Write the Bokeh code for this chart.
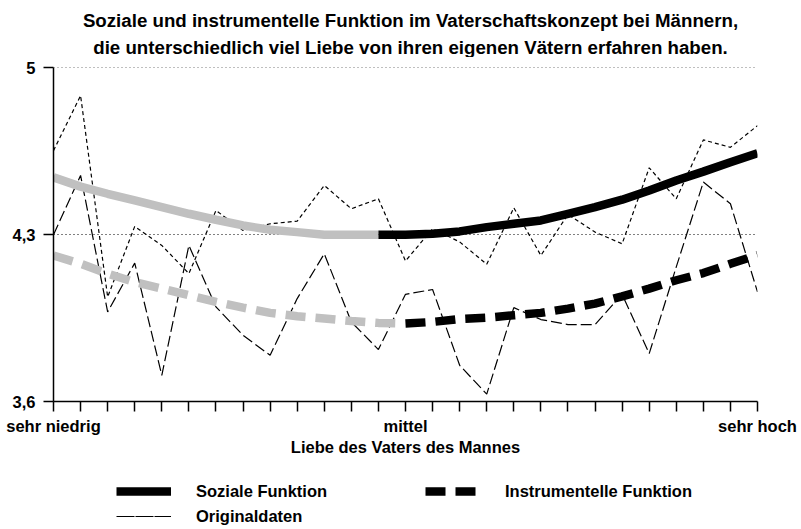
from bokeh.plotting import figure
from bokeh.models import Range1d, FixedTicker, Label, Legend, LegendItem
from bokeh.layouts import column
from bokeh.embed import file_html
from bokeh.resources import INLINE

# ---- data ----
positions = list(range(27))
tick_labels = ["sehr niedrig", "", "", "", "", "", "", "", "", "", "", "", "",
               "mittel", "", "", "", "", "", "", "", "", "", "", "", "", "sehr hoch"]
y_ticks = [3.6, 4.3, 5.0]
y_tick_labels = ["3,6", "4,3", "5"]

soz_orig = [4.653, 4.884, 4.039, 4.335, 4.255, 4.137, 4.402, 4.318, 4.346,
            4.357, 4.507, 4.409, 4.451, 4.190, 4.325, 4.270, 4.176, 4.413,
            4.213, 4.385, 4.311, 4.262, 4.581, 4.451, 4.698, 4.667, 4.758]
inst_orig = [4.300, 4.549, 3.976, 4.181, 3.710, 4.255, 3.997, 3.878, 3.794,
             4.032, 4.220, 3.934, 3.818, 4.050, 4.070, 3.752, 3.631, 3.994,
             3.944, 3.923, 3.923, 4.050, 3.801, 4.165, 4.521, 4.430, 4.060]
soz_trend = [4.541, 4.502, 4.472, 4.444, 4.416, 4.388, 4.363, 4.339, 4.321,
             4.311, 4.300, 4.300, 4.300, 4.300, 4.304, 4.314, 4.332, 4.346,
             4.360, 4.388, 4.416, 4.447, 4.486, 4.528, 4.565, 4.604, 4.642]
inst_trend = [4.213, 4.178, 4.137, 4.101, 4.074, 4.046, 4.018, 3.994, 3.972,
              3.958, 3.948, 3.938, 3.930, 3.927, 3.934, 3.946, 3.952, 3.962,
              3.972, 3.990, 4.011, 4.041, 4.074, 4.109, 4.139, 4.178, 4.215]
soz_split = 12
inst_split = 13

title_lines = ["Soziale und instrumentelle Funktion im Vaterschaftskonzept bei Männern,",
               "die unterschiedlich viel Liebe von ihren eigenen Vätern erfahren haben."]
x_title = "Liebe des Vaters des Mannes"
legend_labels = ["Soziale Funktion", "Instrumentelle Funktion", "Originaldaten"]

FONT = "Liberation Sans"
GRAY = "#c0c0c0"
W = 801
H_TITLE, H_MAIN, H_LEG = 57, 409, 63
BL, BR = 53, 44          # left / right border, same for all three panels
THICK = 8.5
NAN = float("nan")


def blank_fig(h):
    f = figure(width=W, height=h, x_range=Range1d(BL, W - BR), y_range=Range1d(0, h),
               x_axis_location=None, y_axis_location=None,
               min_border_left=BL, min_border_right=BR, min_border_top=0, min_border_bottom=0,
               output_backend="svg", toolbar_location=None)
    f.outline_line_color = None
    f.grid.visible = False
    return f


# ---- title ----
pt = blank_fig(H_TITLE)
for txt, yy in zip(title_lines, [H_TITLE - 20, H_TITLE - 47]):
    pt.add_layout(Label(x=410, y=yy, text=txt, text_font=FONT, text_font_size="18.7px",
                        text_font_style="bold", text_align="center",
                        text_baseline="middle", text_color="black"))

# ---- main plot ----
p = figure(width=W, height=H_MAIN, x_range=Range1d(0, 26), y_range=Range1d(3.6, 5.002),
           output_backend="svg", toolbar_location=None,
           min_border_left=BL, min_border_right=BR, min_border_top=10, min_border_bottom=65)
p.outline_line_color = None

p.xgrid.visible = False
p.ygrid.ticker = FixedTicker(ticks=[4.3, 5.0])
p.ygrid.grid_line_color = "black"
p.ygrid.grid_line_dash = "1 3"
p.ygrid.grid_line_width = 1

for ax in (p.xaxis[0], p.yaxis[0]):
    ax.axis_line_color = "black"
    ax.axis_line_width = 1.5
    ax.major_tick_line_color = "black"
    ax.major_tick_line_width = 1.5
    ax.major_tick_out = 10
    ax.major_tick_in = 0
    ax.minor_tick_line_color = None
    ax.major_label_text_font = FONT
    ax.major_label_text_font_size = "16.5px"
    ax.major_label_text_font_style = "bold"
    ax.major_label_text_color = "black"

p.xaxis.ticker = FixedTicker(ticks=positions)
p.xaxis.major_label_overrides = {k: v for k, v in zip(positions, tick_labels)}
p.xaxis.major_label_standoff = 5
p.xaxis.axis_label = x_title
p.xaxis.axis_label_text_font = FONT
p.xaxis.axis_label_text_font_size = "16.5px"
p.xaxis.axis_label_text_font_style = "bold"
p.xaxis.axis_label_text_color = "black"
p.xaxis.axis_label_standoff = 0

p.yaxis.ticker = FixedTicker(ticks=y_ticks)
p.yaxis.major_label_overrides = {k: v for k, v in zip(y_ticks, y_tick_labels)}
p.yaxis.major_label_standoff = 8

# original data (thin)
p.line(positions, soz_orig, line_color="black", line_width=1.2, line_dash="4 3")
p.line(positions, inst_orig, line_color="black", line_width=1.2, line_dash="11 4")

# trend lines (thick)
p.line(positions[:soz_split + 1], soz_trend[:soz_split + 1], line_color=GRAY, line_width=THICK)
p.line(positions[soz_split:], soz_trend[soz_split:], line_color="black", line_width=THICK)
p.line(positions[:inst_split + 1], inst_trend[:inst_split + 1], line_color=GRAY,
       line_width=THICK, line_dash="20 10")
p.line(positions[inst_split:], inst_trend[inst_split:], line_color="black",
       line_width=THICK, line_dash="20 10")

# ---- legend (renderers hold no visible data; they only supply legend glyphs) ----
pl = blank_fig(H_LEG)
l_soz = pl.line([NAN], [NAN], line_color="black", line_width=THICK)
l_inst = pl.line([NAN], [NAN], line_color="black", line_width=THICK, line_dash="20 10")
l_orig = pl.line([NAN], [NAN], line_color="black", line_width=1, line_dash="18 1")


def make_legend(items, loc):
    lg = Legend(items=items, location=loc, orientation="horizontal",
                glyph_width=55, glyph_height=20, label_standoff=25, label_width=225,
                label_height=20, spacing=4, padding=0, margin=0,
                border_line_color=None, background_fill_alpha=0)
    lg.label_text_font = FONT
    lg.label_text_font_size = "16.5px"
    lg.label_text_font_style = "bold"
    lg.label_text_color = "black"
    return lg


pl.add_layout(make_legend([LegendItem(label=legend_labels[0], renderers=[l_soz]),
                           LegendItem(label=legend_labels[1], renderers=[l_inst])],
                          (116 - BL, 28)))
pl.add_layout(make_legend([LegendItem(label=legend_labels[2], renderers=[l_orig])],
                          (116 - BL, 3)))

layout = column(pt, p, pl, spacing=0)
open("out.html", "w").write(file_html(layout, INLINE))
